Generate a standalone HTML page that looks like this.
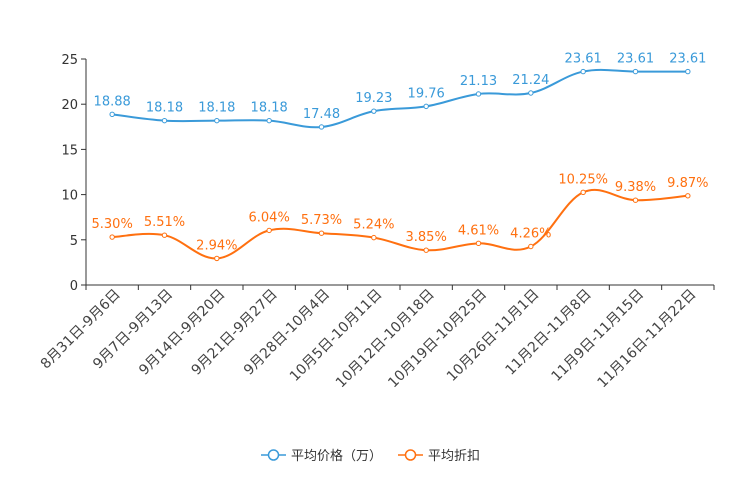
<!DOCTYPE html>
<html><head><meta charset="utf-8"><style>
body{margin:0;background:#fff;}
svg{display:block;font-family:"DejaVu Sans","Noto Sans CJK SC",sans-serif;}
</style></head><body>
<svg id="c" width="744" height="496"></svg>
<script>
const categories=["8月31日-9月6日","9月7日-9月13日","9月14日-9月20日","9月21日-9月27日","9月28日-10月4日","10月5日-10月11日","10月12日-10月18日","10月19日-10月25日","10月26日-11月1日","11月2日-11月8日","11月9日-11月15日","11月16日-11月22日"];
const priceValues=[18.88,18.18,18.18,18.18,17.48,19.23,19.76,21.13,21.24,23.61,23.61,23.61];
const discountValues=[5.30,5.51,2.94,6.04,5.73,5.24,3.85,4.61,4.26,10.25,9.38,9.87];
const yTicks=[0,5,10,15,20,25];
const NS="http://www.w3.org/2000/svg";
const svg=document.getElementById("c");
const X0=86,X1=714,Y0=285,Y1=59,YMAX=25;
const bw=(X1-X0)/categories.length;
const xs=i=>X0+bw*(i+0.5);
const ys=v=>Y0-(v/YMAX)*(Y0-Y1);
function mk(t,a,p){const e=document.createElementNS(NS,t);for(const k in a)e.setAttribute(k,a[k]);(p||svg).appendChild(e);return e;}
const ya=mk("g",{});


mk("line",{x1:X0,y1:Y1,x2:X0,y2:Y0,stroke:"#333","stroke-width":1},ya);
yTicks.forEach(v=>{
  mk("line",{x1:X0-5,y1:ys(v),x2:X0,y2:ys(v),stroke:"#333"},ya);
  const t=mk("text",{x:X0-8,y:ys(v)+5,"text-anchor":"end","font-size":13,fill:"#333"},ya);
  
  
  t.textContent=v;
});
const xa=mk("g",{});


mk("line",{x1:X0,y1:Y0,x2:X1,y2:Y0,stroke:"#333"},xa);
for(let i=0;i<=categories.length;i++){mk("line",{x1:X0+bw*i,y1:Y0,x2:X0+bw*i,y2:Y0+5,stroke:"#333"},xa);}
categories.forEach((c,i)=>{
  const x=xs(i)+2,y=Y0+3;
  const t=mk("text",{x:x,y:y,"text-anchor":"end","font-size":14,fill:"#444",transform:`rotate(-45 ${x} ${y})`,"dominant-baseline":"hanging"},xa);
  
  
  t.textContent=c;
});
function smooth(pts){
  let d=`M${pts[0][0]},${pts[0][1]}`;
  const s=0.18;
  for(let i=0;i<pts.length-1;i++){
    const p0=pts[Math.max(0,i-1)],p1=pts[i],p2=pts[i+1],p3=pts[Math.min(pts.length-1,i+2)];
    const c1=[p1[0]+(p2[0]-p0[0])*s,p1[1]+(p2[1]-p0[1])*s];
    const c2=[p2[0]-(p3[0]-p1[0])*s,p2[1]-(p3[1]-p1[1])*s];
    d+=` C${c1[0]},${c1[1]} ${c2[0]},${c2[1]} ${p2[0]},${p2[1]}`;
  }
  return d;
}
function series(vals,color,name,fmt){
  const g=mk("g",{});
  
  
  const pts=vals.map((v,i)=>[xs(i),ys(v)]);
  const p=mk("path",{d:smooth(pts),fill:"none",stroke:color,"stroke-width":2},g);
  
  
  pts.forEach((q,i)=>{
    const c=mk("circle",{cx:q[0],cy:q[1],r:2.2,fill:"#fff",stroke:color,"stroke-width":1},g);
    
    
    const t=mk("text",{x:q[0],y:q[1]-9,"text-anchor":"middle","font-size":13,fill:color},g);
    
    
    t.textContent=fmt(vals[i]);
  });
}
series(priceValues,"#3a9ad9","price-series",v=>v.toFixed(2));
series(discountValues,"#ff7010","discount-series",v=>v.toFixed(2)+"%");
function leg(x,color,label,name){
  const g=mk("g",{});
  
  
  mk("line",{x1:x,y1:455,x2:x+25,y2:455,stroke:color,"stroke-width":1.5},g);
  mk("circle",{cx:x+12.5,cy:455,r:5,fill:"#fff",stroke:color,"stroke-width":1.5},g);
  const t=mk("text",{x:x+30,y:460,"font-size":13,fill:"#333"},g);
  t.textContent=label;
}
leg(261,"#3a9ad9","平均价格（万）","legend-price");
leg(398,"#ff7010","平均折扣","legend-discount");
</script>
</body></html>
